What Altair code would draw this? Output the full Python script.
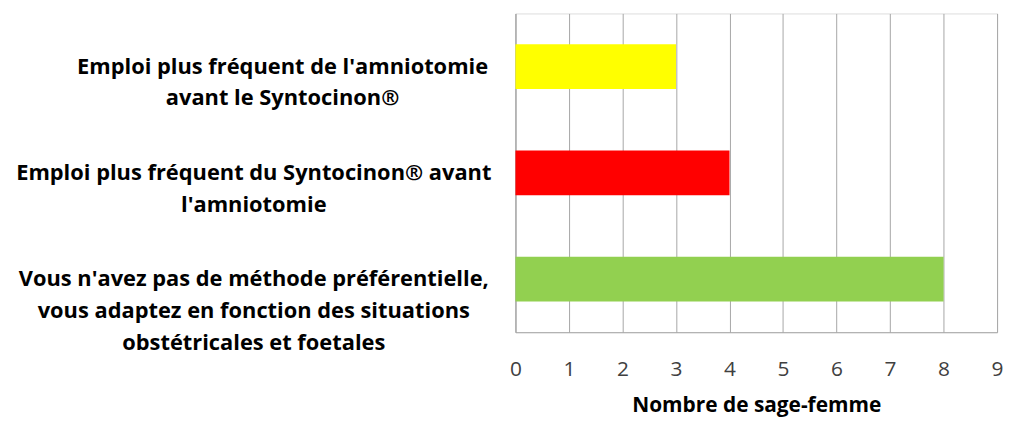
import altair as alt
import pandas as pd

categories = [
    "Emploi plus fréquent de l'amniotomie\navant le Syntocinon®",
    "Emploi plus fréquent du Syntocinon® avant\nl'amniotomie",
    "Vous n'avez pas de méthode préférentielle,\nvous adaptez en fonction des situations\nobstétricales et foetales",
]
values = [3, 4, 8]
colors = ["#FFFF00", "#FF0000", "#92D050"]
ticks = [0, 1, 2, 3, 4, 5, 6, 7, 8, 9]

df = pd.DataFrame({"cat": categories, "val": values, "col": colors})

FONT = "Open Sans"

chart = (
    alt.Chart(df)
    .mark_bar()
    .encode(
        x=alt.X(
            "val:Q",
            scale=alt.Scale(domain=[0, 9], nice=False),
            axis=alt.Axis(
                values=ticks,
                title="Nombre de sage-femme",
                titleFont=FONT,
                titleFontSize=21,
                titleFontWeight="bold",
                titleColor="#000000",
                titlePadding=15,
                labelFont=FONT,
                labelFontSize=21,
                labelColor="#404040",
                labelPadding=27,
                labelFlush=False,
                ticks=False,
                domain=True,
                domainColor="#A6A6A6",
                domainWidth=1,
                grid=True,
                gridColor="#A6A6A6",
                gridWidth=1,
                format="d",
            ),
        ),
        y=alt.Y(
            "cat:N",
            sort=categories,
            scale=alt.Scale(paddingInner=0.58, paddingOuter=0.29),
            axis=alt.Axis(
                title=None,
                ticks=False,
                grid=False,
                domain=True,
                domainColor="#A6A6A6",
                domainWidth=1,
                labelExpr="split(datum.label, '\\n')",
                labelAlign="center",
                labelBaseline="middle",
                labelLineHeight=32,
                labelFont=FONT,
                labelFontSize=22,
                labelFontWeight="bold",
                labelColor="#000000",
                labelLimit=0,
                labelPadding={
                    "condition": {"test": "indexof(datum.value, 'avant le') >= 0", "value": 235},
                    "value": 264,
                },
            ),
        ),
        color=alt.Color("col:N", scale=None, legend=None),
    )
    .properties(
        width=485,
        height=321,
        autosize=alt.AutoSizeParams(type="none"),
        padding={"left": 511, "top": 4, "right": 10, "bottom": 100},
    )
    .configure_view(stroke=None)
    .configure(background="white")
)

chart.save("out.html", embed_options={"renderer": "svg", "actions": False})
